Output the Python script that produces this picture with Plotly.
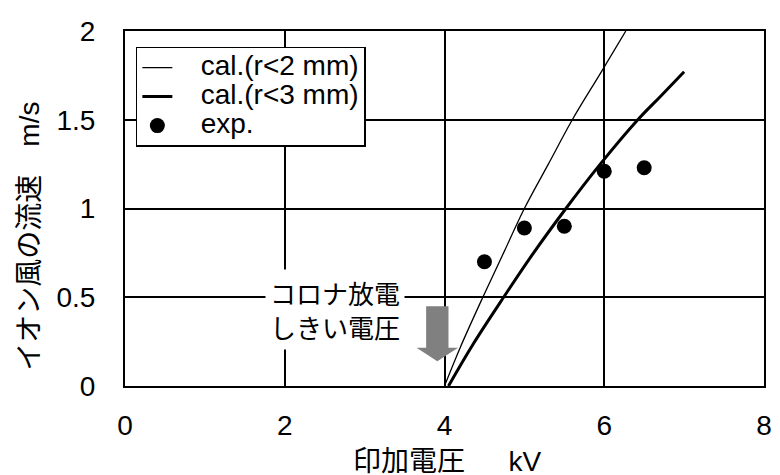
import plotly.graph_objects as go

# calculated curves
cal2_x = [4.00, 4.20, 4.48, 4.75, 5.00, 5.30, 5.60, 5.95, 6.27]
cal2_y = [0.00, 0.22, 0.50, 0.76, 1.00, 1.25, 1.50, 1.76, 2.00]
cal3_x = [4.05, 4.35, 4.74, 5.10, 5.52, 5.95, 6.42, 6.70, 7.00]
cal3_y = [0.00, 0.23, 0.50, 0.74, 1.00, 1.25, 1.50, 1.63, 1.77]
# experiment
exp_x = [4.5, 5.0, 5.5, 6.0, 6.5]
exp_y = [0.70, 0.89, 0.90, 1.21, 1.23]

x_ticks = [0, 2, 4, 6, 8]
y_ticks = [0, 0.5, 1, 1.5, 2]
y_tick_labels = ["0", "0.5", "1", "1.5", "2"]

FONT = "Liberation Sans, Arial, Noto Sans CJK JP"
JFONT = "Liberation Sans, Noto Sans CJK JP"
BIG = 28


def big(s):
    return '<span style="font-size:%dpx">\u00a0\u00a0\u00a0%s</span>' % (BIG, s)


fig = go.Figure()
fig.add_trace(go.Scatter(x=cal2_x, y=cal2_y, mode="lines", name=big("cal.(r&lt;2 mm)"),
                         line=dict(color="black", width=1.3), line_shape="spline"))
fig.add_trace(go.Scatter(x=cal3_x, y=cal3_y, mode="lines", name=big("cal.(r&lt;3 mm)"),
                         line=dict(color="black", width=3), line_shape="spline"))
fig.add_trace(go.Scatter(x=exp_x, y=exp_y, mode="markers", name=big("exp."),
                         marker=dict(color="black", size=15)))

# block arrow (corona threshold)
arrow_path = ("M 3.77,0.45 L 4.05,0.45 L 4.05,0.215 L 4.17,0.215 "
              "L 3.91,0.14 L 3.65,0.215 L 3.77,0.215 Z")
fig.add_shape(type="path", path=arrow_path, xref="x", yref="y",
              fillcolor="#808080", line=dict(width=0), layer="above")

fig.add_annotation(x=2.63, y=0.43, xref="x", yref="y",
                   text="コロナ放電<br>しきい電圧", showarrow=False,
                   font=dict(family="Noto Sans CJK JP", size=26, color="black"),
                   bgcolor="white", align="center", borderpad=4)

fig.add_annotation(x=-0.150, y=0.421, xref="paper", yref="paper",
                   text="イオン風の流速　m/s", textangle=-90, showarrow=False,
                   font=dict(family=JFONT, size=BIG, color="black"),
                   xanchor="center", yanchor="middle")
fig.add_annotation(x=0.505, y=-0.213, xref="paper", yref="paper",
                   text="印加電圧　\u00a0 kV", showarrow=False,
                   font=dict(family=JFONT, size=BIG, color="black"),
                   xanchor="center", yanchor="middle")

fig.update_layout(
    width=772, height=467,
    margin=dict(l=117, r=8, t=17, b=89),
    paper_bgcolor="white", plot_bgcolor="white",
    font=dict(family=FONT, size=20, color="black"),
    showlegend=True,
    legend=dict(x=0.017, y=0.956, xanchor="left", yanchor="top",
                bgcolor="white", bordercolor="black", borderwidth=1.5,
                font=dict(family=FONT, size=20), tracegroupgap=0),
)
fig.update_xaxes(range=[0, 8], tickvals=x_ticks, ticktext=[str(v) for v in x_ticks],
                 showgrid=True, gridcolor="black", gridwidth=1.5,
                 showline=True, linecolor="black", linewidth=2, mirror=True,
                 ticks="", ticklabelstandoff=13, zeroline=False,
                 tickfont=dict(family=FONT, size=BIG))
fig.update_yaxes(range=[0, 2], tickvals=y_ticks, ticktext=y_tick_labels,
                 showgrid=True, gridcolor="black", gridwidth=1.5,
                 showline=True, linecolor="black", linewidth=2, mirror=True,
                 ticks="", ticklabelstandoff=22, zeroline=False,
                 tickfont=dict(family=FONT, size=BIG))

fig.write_html("out.html")
